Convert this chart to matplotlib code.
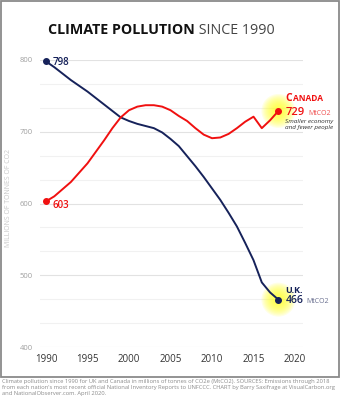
import matplotlib
matplotlib.use("Agg")
import matplotlib.pyplot as plt
from matplotlib.patches import Rectangle
import numpy as np

plt.rcParams['font.family'] = ['Open Sans', 'DejaVu Sans']

years = list(range(1990, 2019))
uk = [798, 790, 781, 772, 764, 756, 747, 738, 729, 720,
      715, 711, 708, 705, 699, 690, 680, 666, 652, 637,
      621, 605, 587, 568, 545, 521, 490, 476, 466]
canada = [603, 610, 620, 630, 643, 656, 672, 688, 705, 720,
          730, 735, 737, 737, 735, 730, 722, 715, 705, 696,
          691, 692, 697, 705, 714, 721, 705, 716, 729]

x_ticks = [1990, 1995, 2000, 2005, 2010, 2015, 2020]
y_ticks = [400, 500, 600, 700, 800]

title_bold = "CLIMATE POLLUTION"
title_rest = " SINCE 1990"
y_label = "MILLIONS OF TONNES OF CO2"
caption = ("Climate pollution since 1990 for UK and Canada in millions of tonnes of CO2e (MtCO2). SOURCES: Emissions through 2018\n"
           "from each nation's most recent official National Inventory Reports to UNFCCC. CHART by Barry Saxifrage at VisualCarbon.org\n"
           "and NationalObserver.com. April 2020.")

NAVY = '#16225a'
RED = '#f01010'

W, H = 341, 400
fig = plt.figure(figsize=(W / 100, H / 100), dpi=100)
fig.patch.set_facecolor('white')

# frame around the chart panel
fig.patches.append(Rectangle((1 / W, 1 - 377 / H), 338 / W, 376 / H,
                             transform=fig.transFigure, fill=False,
                             edgecolor='#8a8a8a', linewidth=1.3))

ax = fig.add_axes([40 / W, 1 - 347 / H, 263 / W, 287 / H])
ax.set_xlim(1990 - 6 / 8.3, 1990 + 257 / 8.3)
ax.set_ylim(400, 800)
for s in ax.spines.values():
    s.set_visible(False)

# grid: major every 100, minor thirds
for v in np.arange(400, 801, 100 / 3):
    major = abs(v / 100 - round(v / 100)) < 1e-6
    ax.axhline(v, color='#e2e2e2' if major else '#f1f1f1', lw=0.8, zorder=0)

ax.set_xticks(x_ticks)
ax.set_yticks(y_ticks)
ax.tick_params(length=0)
ax.tick_params(axis='x', pad=5, labelsize=7, labelcolor='#333333')
ax.tick_params(axis='y', pad=5, labelsize=5.5, labelcolor='#a0a0a0')

ax.set_ylabel(y_label, fontsize=5, color='#c8c8c8')
ax.yaxis.set_label_coords(-0.106, 0.52)

# glow behind the latest values
for yv in (uk[-1], canada[-1]):
    for r in np.linspace(17, 2, 14):
        ax.scatter([years[-1]], [yv], s=(2 * r * 0.72) ** 2, color='#ffff30',
                   alpha=0.12, edgecolors='none', zorder=1, clip_on=False)

ax.plot(years, uk, color=NAVY, lw=1.4, zorder=3, clip_on=False,
        solid_joinstyle='round')
ax.plot(years, canada, color=RED, lw=1.4, zorder=3, clip_on=False,
        solid_joinstyle='round')
ax.scatter([years[0], years[-1]], [uk[0], uk[-1]], s=16, color=NAVY,
           zorder=4, clip_on=False)
ax.scatter([years[0], years[-1]], [canada[0], canada[-1]], s=16, color=RED,
           zorder=4, clip_on=False)

ax.annotate(str(uk[0]), (years[0], uk[0]), xytext=(5, -1),
            textcoords='offset points', fontsize=7, color=NAVY,
            fontweight='semibold', va='center')
ax.annotate(str(canada[0]), (years[0], canada[0]), xytext=(5, -3),
            textcoords='offset points', fontsize=7, color=RED,
            fontweight='semibold', va='center')

# Canada end label
ax.annotate("C", (years[-1], canada[-1]), xytext=(5, 7.5),
            textcoords='offset points', fontsize=7.5, color=RED,
            fontweight='bold', va='baseline')
ax.annotate("ANADA", (years[-1], canada[-1]), xytext=(10.5, 7.5),
            textcoords='offset points', fontsize=6, color=RED,
            fontweight='bold', va='baseline')
ax.annotate(str(canada[-1]), (years[-1], canada[-1]), xytext=(5, -1),
            textcoords='offset points', fontsize=8, color=RED,
            fontweight='semibold', va='center')
ax.annotate("MtCO2", (years[-1], canada[-1]), xytext=(21.5, -1.5),
            textcoords='offset points', fontsize=5, color='#f05050',
            va='center')
ax.annotate("Smaller economy\nand fewer people", (years[-1], canada[-1]),
            xytext=(5, -6), textcoords='offset points', fontsize=4.6,
            color='#333333', style='italic', va='top', linespacing=1.1)

# UK end label
ax.annotate("U.K.", (years[-1], uk[-1]), xytext=(5, 6.5),
            textcoords='offset points', fontsize=6.5, color=NAVY,
            fontweight='bold', va='center')
ax.annotate(str(uk[-1]), (years[-1], uk[-1]), xytext=(5, -0.5),
            textcoords='offset points', fontsize=7.5, color=NAVY,
            fontweight='semibold', va='center')
ax.annotate("MtCO2", (years[-1], uk[-1]), xytext=(20, -1),
            textcoords='offset points', fontsize=5, color='#6a7090',
            va='center')

# two-weight title
t1 = fig.text(48 / W, 1 - 30 / H, title_bold, fontsize=10.3,
              fontweight='bold', color='#111111', va='center', ha='left')
fig.canvas.draw()
bb = t1.get_window_extent()
fig.text(bb.x1 / W, 1 - 30 / H, title_rest, fontsize=10.3,
         color='#444444', va='center', ha='left')

fig.text(2 / W, 1 - 379 / H, caption, fontsize=4.18, color='#8a8a8a',
         va='top', ha='left', linespacing=1.2)

fig.savefig('out.png', dpi=100, facecolor='white')
